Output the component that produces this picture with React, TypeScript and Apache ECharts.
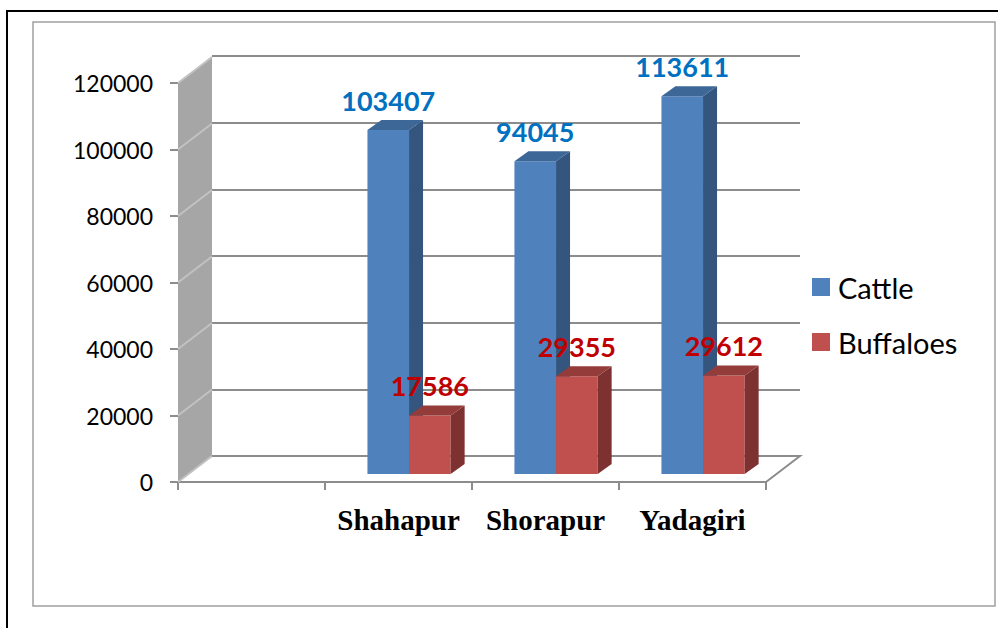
import React, { useEffect, useRef } from "react";
import * as echarts from "echarts";

const categories = ["", "Shahapur", "Shorapur", "Yadagiri"];
const cattle: (number | null)[] = [null, 103407, 94045, 113611];
const buffaloes: (number | null)[] = [null, 17586, 29355, 29612];
const yTicks = [0, 20000, 40000, 60000, 80000, 100000, 120000];
const seriesNames = ["Cattle", "Buffaloes"];

// 3D look constants (pixels)
const DEPTH = [34, -26];
const BAR_PLANE = 0.31;
const BAR_DEPTH = [14, -10];
const BAR_FRAC = 0.283;

const makeBarRender =
  (offsetIdx: number, front: string, top: string, side: string, labelColor: string) =>
  (params: any, api: any) => {
    const cat = api.value(0);
    const val = api.value(1);
    if (val == null || isNaN(val)) return null;
    const base = api.coord([cat, 0]);
    const topP = api.coord([cat, val]);
    const slot = api.size([1, 0])[0];
    const w = slot * BAR_FRAC;
    const ox = DEPTH[0] * BAR_PLANE;
    const oy = DEPTH[1] * BAR_PLANE;
    const x0 = base[0] + ox + offsetIdx * w;
    const x1 = x0 + w;
    const yb = base[1] + oy;
    const yt = topP[1] + oy;
    const [dx, dy] = BAR_DEPTH;
    return {
      type: "group",
      children: [
        { type: "rect", shape: { x: x0, y: yt, width: w, height: yb - yt }, style: { fill: front } },
        {
          type: "polygon",
          shape: { points: [[x1, yt], [x1 + dx, yt + dy], [x1 + dx, yb + dy], [x1, yb]] },
          style: { fill: side },
        },
        {
          type: "polygon",
          shape: { points: [[x0, yt], [x0 + dx, yt + dy], [x1 + dx, yt + dy], [x1, yt]] },
          style: { fill: top },
        },
        {
          type: "text",
          style: {
            text: String(val),
            x: (x0 + x1) / 2,
            y: yt - 30,
            align: "center",
            verticalAlign: "middle",
            fill: labelColor,
            fontSize: 27,
            fontWeight: "bold",
            fontFamily: "Lato",
          },
        },
      ],
    };
  };

const renderFrame = (params: any, api: any) => {
  const cs = params.coordSys;
  const L = cs.x;
  const R = cs.x + cs.width;
  const B = cs.y + cs.height;
  const [dx, dy] = DEPTH;
  const yTop = api.coord([0, yTicks[yTicks.length - 1]])[1];
  const children: any[] = [];
  children.push({
    type: "polygon",
    shape: { points: [[L, yTop], [L + dx, yTop + dy], [L + dx, B + dy], [L, B]] },
    style: { fill: "#a6a6a6" },
  });
  yTicks.forEach((v) => {
    const y = api.coord([0, v])[1];
    children.push({
      type: "line",
      shape: { x1: L, y1: y, x2: L + dx, y2: y + dy },
      style: { stroke: "#c2c2c2", lineWidth: 2 },
    });
  });
  children.push({
    type: "polyline",
    shape: { points: [[L + dx, B + dy], [R + dx, B + dy], [R, B]] },
    style: { stroke: "#8c8c8c", lineWidth: 2, fill: null },
  });
  return { type: "group", children };
};

export default function App() {
  const ref = useRef<HTMLDivElement>(null);
  useEffect(() => {
    if (!ref.current) return;
    const chart = echarts.init(ref.current, null, { renderer: "svg" });
    const gray = "#8c8c8c";
    chart.setOption({
      animation: false,
      backgroundColor: "#ffffff",
      graphic: [
        { type: "line", shape: { x1: 7, y1: 11, x2: 998, y2: 11 }, style: { stroke: "#000", lineWidth: 2 } },
        { type: "line", shape: { x1: 7, y1: 10, x2: 7, y2: 628 }, style: { stroke: "#000", lineWidth: 2 } },
        {
          type: "rect",
          shape: { x: 33, y: 22, width: 962, height: 584 },
          style: { fill: null, stroke: "#a0a0a0", lineWidth: 1.5 },
        },
      ],
      legend: {
        data: seriesNames,
        orient: "vertical",
        left: 812,
        top: 270,
        padding: 0,
        itemWidth: 18,
        itemHeight: 18,
        itemGap: 21,
        icon: "rect",
        textStyle: { fontSize: 29, fontFamily: "Lato", color: "#000", lineHeight: 34, padding: [0, 0, 0, 3] },
      },
      grid: [
        { left: 178, top: 83, width: 588, height: 399 },
        { left: 212, top: 56, width: 588, height: 400 },
      ],
      xAxis: [
        {
          type: "category",
          gridIndex: 0,
          data: categories,
          boundaryGap: true,
          axisLine: { show: true, lineStyle: { color: gray, width: 2 } },
          axisTick: { show: true, interval: 0, length: 8, lineStyle: { color: gray, width: 2 } },
          axisLabel: {
            interval: 0,
            margin: 23,
            fontFamily: "Liberation Serif",
            fontWeight: "bold",
            fontSize: 29,
            color: "#000",
          },
          splitLine: { show: false },
        },
        {
          type: "category",
          gridIndex: 1,
          data: categories,
          show: false,
        },
      ],
      yAxis: [
        {
          type: "value",
          gridIndex: 0,
          min: 0,
          max: 120000,
          interval: 20000,
          axisLine: { show: false },
          axisTick: { show: true, length: 8, lineStyle: { color: gray, width: 2 } },
          axisLabel: {
            margin: 25,
            fontFamily: "Lato",
            fontSize: 23,
            color: "#000",
            formatter: (v: number) => String(v),
          },
          splitLine: { show: false },
        },
        {
          type: "value",
          gridIndex: 1,
          min: 0,
          max: 120000,
          interval: 20000,
          axisLine: { show: false },
          axisTick: { show: false },
          axisLabel: { show: false },
          splitLine: { show: true, lineStyle: { color: gray, width: 2 } },
        },
      ],
      series: [
        {
          type: "custom",
          name: "frame",
          xAxisIndex: 0,
          yAxisIndex: 0,
          silent: true,
          clip: false,
          data: [[0, 0]],
          renderItem: renderFrame,
        },
        {
          type: "custom",
          name: seriesNames[0],
          xAxisIndex: 0,
          yAxisIndex: 0,
          clip: false,
          itemStyle: { color: "#4F81BD" },
          data: cattle.map((v, i) => [i, v]),
          renderItem: makeBarRender(-1, "#4F81BD", "#3D6797", "#33557E", "#0070C0"),
        },
        {
          type: "custom",
          name: seriesNames[1],
          xAxisIndex: 0,
          yAxisIndex: 0,
          clip: false,
          itemStyle: { color: "#C0504D" },
          data: buffaloes.map((v, i) => [i, v]),
          renderItem: makeBarRender(0, "#C0504D", "#943C3A", "#7D3130", "#C00000"),
        },
      ],
    });
    return () => chart.dispose();
  }, []);
  return (
    <div
      ref={ref}
      style={{ position: "fixed", left: 0, top: 0, width: 998, height: 628, background: "#fff" }}
    />
  );
}
